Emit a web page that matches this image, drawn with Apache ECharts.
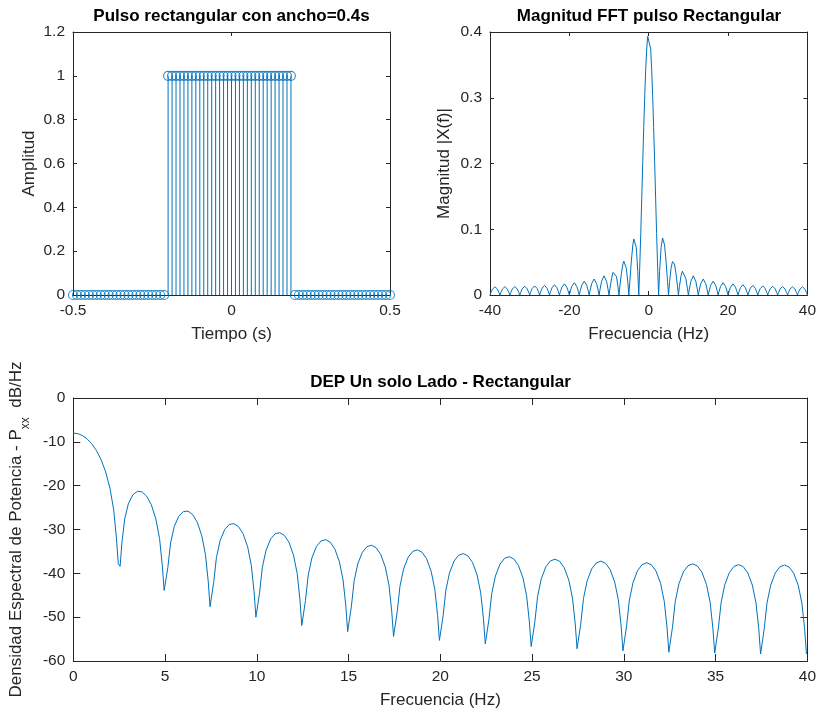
<!DOCTYPE html>
<html>
<head>
<meta charset="utf-8">
<script src="https://cdn.jsdelivr.net/npm/echarts@6/dist/echarts.min.js"></script>
<style>
html,body{margin:0;padding:0;background:#fff;}
#chart{width:819px;height:712px;}
</style>
</head>
<body>
<div id="chart"></div>
<script>
// ---------- Data: rectangular pulse (stem plot) ----------
var pulseTime = [
 -0.5,-0.4875,-0.475,-0.4625,-0.45,-0.4375,-0.425,-0.4125,-0.4,-0.3875,-0.375,-0.3625,
 -0.35,-0.3375,-0.325,-0.3125,-0.3,-0.2875,-0.275,-0.2625,-0.25,-0.2375,-0.225,-0.2125,
 -0.2,-0.1875,-0.175,-0.1625,-0.15,-0.1375,-0.125,-0.1125,-0.1,-0.0875,-0.075,-0.0625,
 -0.05,-0.0375,-0.025,-0.0125,0,0.0125,0.025,0.0375,0.05,0.0625,0.075,0.0875,
 0.1,0.1125,0.125,0.1375,0.15,0.1625,0.175,0.1875,
 0.2,0.2125,0.225,0.2375,0.25,0.2625,0.275,0.2875,0.3,0.3125,0.325,0.3375,
 0.35,0.3625,0.375,0.3875,0.4,0.4125,0.425,0.4375,0.45,0.4625,0.475,0.4875,0.5
];
var pulseAmp = [
 0,0,0,0,0,0,0,0,0,0,0,0,
 0,0,0,0,0,0,0,0,0,0,0,0,
 1,1,1,1,1,1,1,1,1,1,1,1,
 1,1,1,1,1,1,1,1,1,1,1,1,
 1,1,1,1,1,1,1,1,
 0,0,0,0,0,0,0,0,0,0,0,0,
 0,0,0,0,0,0,0,0,0,0,0,0,0
];

// ---------- Data: FFT magnitude ----------
var fftFreq = [
 -40,-39.75,-39.375,-38.75,-38.125,-37.75,
 -37.5,-37.25,-36.875,-36.25,-35.625,-35.25,
 -35,-34.75,-34.375,-33.75,-33.125,-32.75,
 -32.5,-32.25,-31.875,-31.25,-30.625,-30.25,
 -30,-29.75,-29.375,-28.75,-28.125,-27.75,
 -27.5,-27.25,-26.875,-26.25,-25.625,-25.25,
 -25,-24.75,-24.375,-23.75,-23.125,-22.75,
 -22.5,-22.25,-21.875,-21.25,-20.625,-20.25,
 -20,-19.75,-19.375,-18.75,-18.125,-17.75,
 -17.5,-17.25,-16.875,-16.25,-15.625,-15.25,
 -15,-14.75,-14.375,-13.75,-13.125,-12.75,
 -12.5,-12.25,-11.875,-11.25,-10.625,-10.25,
 -10,-9.75,-9.375,-9,-8.75,-8.5,-8.125,-7.75,
 -7.5,-7.25,-6.875,-6.5,-6.25,-6,-5.625,-5.25,
 -5,-4.75,-4.375,-4,-3.75,-3.5,-3.125,-2.75,
 -2.5,-2.25,-2,-1.75,-1.5,-1.25,-1,-0.75,-0.5,-0.25,
 0,
 0.25,0.5,0.75,1,1.25,1.5,1.75,2,2.25,2.5,
 2.75,3.125,3.5,3.75,4,4.375,4.75,5,
 5.25,5.625,6,6.25,6.5,6.875,7.25,7.5,
 7.75,8.125,8.5,8.75,9,9.375,9.75,10,
 10.25,10.625,11.25,11.875,12.25,12.5,
 12.75,13.125,13.75,14.375,14.75,15,
 15.25,15.625,16.25,16.875,17.25,17.5,
 17.75,18.125,18.75,19.375,19.75,20,
 20.25,20.625,21.25,21.875,22.25,22.5,
 22.75,23.125,23.75,24.375,24.75,25,
 25.25,25.625,26.25,26.875,27.25,27.5,
 27.75,28.125,28.75,29.375,29.75,30,
 30.25,30.625,31.25,31.875,32.25,32.5,
 32.75,33.125,33.75,34.375,34.75,35,
 35.25,35.625,36.25,36.875,37.25,37.5,
 37.75,38.125,38.75,39.375,39.75,40
];
var fftMag = [
 0,0.0039,0.0089,0.0125,0.0089,0.0039,
 0,0.0039,0.0089,0.0126,0.0089,0.0039,
 0,0.0040,0.0091,0.0129,0.0091,0.0040,
 0,0.0041,0.0094,0.0133,0.0094,0.0041,
 0,0.0043,0.0098,0.0138,0.0098,0.0043,
 0,0.0045,0.0103,0.0146,0.0103,0.0045,
 0,0.0048,0.0110,0.0156,0.0110,0.0048,
 0,0.0052,0.0119,0.0169,0.0119,0.0052,
 0,0.0058,0.0132,0.0186,0.0132,0.0058,
 0,0.0065,0.0148,0.0210,0.0148,0.0065,
 0,0.0075,0.0172,0.0243,0.0172,0.0075,
 0,0.0090,0.0207,0.0292,0.0207,0.0090,
 0,0.0103,0.0246,0.0344,0.0371,0.0363,0.0282,0.0129,
 0,0.0138,0.0331,0.0471,0.0514,0.0509,0.0403,0.0189,
 0,0.0208,0.0517,0.0760,0.0852,0.0868,0.0722,0.0358,
 0,0.0438,0.0936,0.1473,0.2020,0.2548,0.3028,0.3434,0.3742,0.3935,
 0.396,
 0.3935,0.3742,0.3434,0.3028,0.2548,0.2020,0.1473,0.0936,0.0438,0,
 0.0358,0.0722,0.0868,0.0852,0.0760,0.0517,0.0208,0,
 0.0189,0.0403,0.0509,0.0514,0.0471,0.0331,0.0138,0,
 0.0129,0.0282,0.0363,0.0371,0.0344,0.0246,0.0103,0,
 0.0090,0.0207,0.0292,0.0207,0.0090,0,
 0.0075,0.0172,0.0243,0.0172,0.0075,0,
 0.0065,0.0148,0.0210,0.0148,0.0065,0,
 0.0058,0.0132,0.0186,0.0132,0.0058,0,
 0.0052,0.0119,0.0169,0.0119,0.0052,0,
 0.0048,0.0110,0.0156,0.0110,0.0048,0,
 0.0045,0.0103,0.0146,0.0103,0.0045,0,
 0.0043,0.0098,0.0138,0.0098,0.0043,0,
 0.0041,0.0094,0.0133,0.0094,0.0041,0,
 0.0040,0.0091,0.0129,0.0091,0.0040,0,
 0.0039,0.0089,0.0126,0.0089,0.0039,0,
 0.0039,0.0089,0.0125,0.0089,0.0039,0
];

// ---------- Data: one-sided PSD (dB/Hz) ----------
var psdFreq = [
 0,0.25,0.5,0.75,1,1.25,1.5,1.75,2,2.2,2.35,2.45,
 2.55,2.65,2.8,3,3.25,3.5,3.75,4,4.25,4.5,4.7,4.85,4.95,
 5.05,5.15,5.3,5.5,5.75,6,6.25,6.5,6.75,7,7.2,7.35,7.45,
 7.55,7.65,7.8,8,8.25,8.5,8.75,9,9.25,9.5,9.7,9.85,9.95,
 10.05,10.15,10.3,10.5,10.75,11,11.25,11.5,11.75,12,12.2,12.35,12.45,
 12.55,12.65,12.8,13,13.25,13.5,13.75,14,14.25,14.5,14.7,14.85,14.95,
 15.05,15.15,15.3,15.5,15.75,16,16.25,16.5,16.75,17,17.2,17.35,17.45,
 17.55,17.65,17.8,18,18.25,18.5,18.75,19,19.25,19.5,19.7,19.85,19.95,
 20.05,20.15,20.3,20.5,20.75,21,21.25,21.5,21.75,22,22.2,22.35,22.45,
 22.55,22.65,22.8,23,23.25,23.5,23.75,24,24.25,24.5,24.7,24.85,24.95,
 25.05,25.15,25.3,25.5,25.75,26,26.25,26.5,26.75,27,27.2,27.35,27.45,
 27.55,27.65,27.8,28,28.25,28.5,28.75,29,29.25,29.5,29.7,29.85,29.95,
 30.05,30.15,30.3,30.5,30.75,31,31.25,31.5,31.75,32,32.2,32.35,32.45,
 32.55,32.65,32.8,33,33.25,33.5,33.75,34,34.25,34.5,34.7,34.85,34.95,
 35.05,35.15,35.3,35.5,35.75,36,36.25,36.5,36.75,37,37.2,37.35,37.45,
 37.55,37.65,37.8,38,38.25,38.5,38.75,39,39.25,39.5,39.7,39.85,39.95
];
var psdDb = [
 -8,-8.14,-8.58,-9.33,-10.42,-11.92,-13.94,-16.68,-20.61,-25.5,-31.9,-37.8,
 -38.4,-32.98,-27.59,-24.13,-22.04,-21.28,-21.43,-22.43,-24.35,-27.62,-32.06,-38.2,-43.9,
 -44.3,-38.71,-33.09,-29.34,-26.94,-25.91,-25.81,-26.59,-28.31,-31.40,-35.70,-41.74,-47.6,
 -47.6,-42.08,-36.37,-32.52,-30.00,-28.85,-28.65,-29.33,-30.96,-33.96,-38.19,-44.19,-50.0,
 -50.0,-44.43,-38.67,-34.77,-32.18,-30.97,-30.72,-31.33,-32.90,-35.85,-40.05,-46.02,-51.9,
 -51.9,-46.21,-40.43,-36.49,-33.86,-32.61,-32.32,-32.90,-34.43,-37.35,-41.52,-47.47,-53.3,
 -53.3,-47.62,-41.82,-37.86,-35.20,-33.92,-33.60,-34.15,-35.66,-38.55,-42.70,-48.63,-54.4,
 -54.4,-48.76,-42.95,-38.97,-36.29,-34.99,-34.65,-35.18,-36.66,-39.53,-43.67,-49.59,-55.3,
 -55.3,-49.69,-43.87,-39.88,-37.18,-35.86,-35.50,-36.01,-37.49,-40.34,-44.46,-50.37,-56.1,
 -56.1,-50.46,-44.63,-40.62,-37.91,-36.57,-36.20,-36.70,-38.16,-41.00,-45.11,-51.01,-56.7,
 -56.7,-51.08,-45.25,-41.23,-38.50,-37.16,-36.77,-37.26,-38.71,-41.54,-45.63,-51.53,-57.2,
 -57.2,-51.59,-45.74,-41.72,-38.98,-37.62,-37.23,-37.70,-39.14,-41.96,-46.05,-51.94,-57.7,
 -57.7,-51.99,-46.14,-42.10,-39.35,-37.99,-37.58,-38.05,-39.48,-42.29,-46.37,-52.25,-58.0,
 -58.0,-52.29,-46.43,-42.39,-39.63,-38.26,-37.84,-38.30,-39.72,-42.52,-46.59,-52.47,-58.2,
 -58.2,-52.49,-46.63,-42.59,-39.82,-38.43,-38.01,-38.46,-39.87,-42.66,-46.73,-52.61,-58.4,
 -58.4,-52.62,-46.75,-42.69,-39.92,-38.53,-38.09,-38.54,-39.94,-42.72,-46.78,-52.65,-58.4
];

// ---------- Texts ----------
var titles = ['Pulso rectangular con ancho=0.4s', 'Magnitud FFT pulso Rectangular', 'DEP Un solo Lado - Rectangular'];
var xNames = ['Tiempo (s)', 'Frecuencia (Hz)', 'Frecuencia (Hz)'];
var yNames = ['Amplitud', 'Magnitud |X(f)|'];

// ---------- Build ----------
var FONT = "'Liberation Sans', Arial, Helvetica, sans-serif";
var AX = '#262626';
var BLUE = '#0072BD';
var TICK_FS = 15.5, NAME_FS = 17, TITLE_FS = 17;

function zip(a, b) { return a.map(function (v, i) { return [v, b[i]]; }); }

function xAx(grid, min, max, interval, pos, tickLen, name) {
  var main = pos === 'bottom';
  return {
    gridIndex: grid, type: 'value', position: pos, min: min, max: max, interval: interval,
    axisLine: { show: true, onZero: false, lineStyle: { color: AX, width: 1 } },
    axisTick: { show: true, inside: true, length: tickLen, lineStyle: { color: AX, width: 1 } },
    axisLabel: { show: main, color: AX, fontSize: TICK_FS, fontFamily: FONT, margin: 8 },
    splitLine: { show: false },
    name: main ? name : '', nameLocation: 'middle', nameGap: 31,
    nameTextStyle: { color: AX, fontSize: NAME_FS, fontFamily: FONT }
  };
}
function yAx(grid, min, max, interval, pos, tickLen, name, gap) {
  var main = pos === 'left';
  return {
    gridIndex: grid, type: 'value', position: pos, min: min, max: max, interval: interval,
    axisLine: { show: true, onZero: false, lineStyle: { color: AX, width: 1 } },
    axisTick: { show: true, inside: true, length: tickLen, lineStyle: { color: AX, width: 1 } },
    axisLabel: { show: main, color: AX, fontSize: TICK_FS, fontFamily: FONT, margin: 8 },
    splitLine: { show: false },
    name: main ? name : '', nameLocation: 'middle', nameGap: gap || 30,
    nameTextStyle: { color: AX, fontSize: NAME_FS, fontFamily: FONT }
  };
}

var titleStyle = { color: '#000', fontSize: TITLE_FS, fontWeight: 'bold', fontFamily: FONT };

var option = {
  animation: false,
  backgroundColor: '#fff',
  title: [
    { text: titles[0], left: 231.5, top: 8, textAlign: 'center', padding: 0, textStyle: titleStyle },
    { text: titles[1], left: 649, top: 8, textAlign: 'center', padding: 0, textStyle: titleStyle },
    { text: titles[2], left: 440.5, top: 374, textAlign: 'center', padding: 0, textStyle: titleStyle }
  ],
  grid: [
    { left: 73, top: 32, width: 317, height: 263 },
    { left: 490, top: 32, width: 318, height: 263 },
    { left: 73, top: 398, width: 735, height: 263 }
  ],
  xAxis: [
    xAx(0, -0.5, 0.5, 0.5, 'bottom', 4, xNames[0]),
    xAx(0, -0.5, 0.5, 0.5, 'top', 4, ''),
    xAx(1, -40, 40, 20, 'bottom', 4, xNames[1]),
    xAx(1, -40, 40, 20, 'top', 4, ''),
    xAx(2, 0, 40, 5, 'bottom', 7, xNames[2]),
    xAx(2, 0, 40, 5, 'top', 7, '')
  ],
  yAxis: [
    yAx(0, 0, 1.2, 0.2, 'left', 4, yNames[0], 35),
    yAx(0, 0, 1.2, 0.2, 'right', 4, ''),
    yAx(1, 0, 0.4, 0.1, 'left', 4, yNames[1], 37),
    yAx(1, 0, 0.4, 0.1, 'right', 4, ''),
    Object.assign(yAx(2, -60, 0, 10, 'left', 7, '', 0), {
      name: '{m|Densidad Espectral de Potencia - P}{s|xx}{m|  dB/Hz}',
      nameGap: 40,
      nameTextStyle: {
        color: AX, fontFamily: FONT,
        rich: {
          m: { fontSize: NAME_FS, color: AX, fontFamily: FONT, lineHeight: 24, verticalAlign: 'top' },
          s: { fontSize: 12, color: AX, fontFamily: FONT, lineHeight: 24, verticalAlign: 'bottom' }
        }
      }
    }),
    yAx(2, -60, 0, 10, 'right', 7, '')
  ],
  series: [
    {
      type: 'custom', xAxisIndex: 0, yAxisIndex: 0,
      data: zip(pulseTime, pulseAmp),
      encode: { x: 0, y: 1 },
      clip: false,
      renderItem: function (params, api) {
        var p0 = api.coord([api.value(0), 0]);
        var p1 = api.coord([api.value(0), api.value(1)]);
        return { type: 'line', shape: { x1: p0[0], y1: p0[1], x2: p1[0], y2: p1[1] },
                 style: { stroke: BLUE, lineWidth: 1 } };
      }
    },
    {
      type: 'scatter', xAxisIndex: 0, yAxisIndex: 0,
      data: zip(pulseTime, pulseAmp),
      symbol: 'circle', symbolSize: 9, clip: false,
      itemStyle: { color: 'rgba(0,0,0,0)', borderColor: BLUE, borderWidth: 1.1 },
      emphasis: { disabled: true }
    },
    {
      type: 'line', xAxisIndex: 2, yAxisIndex: 2,
      data: zip(fftFreq, fftMag),
      showSymbol: false, symbol: 'none',
      lineStyle: { color: BLUE, width: 1 }
    },
    {
      type: 'line', xAxisIndex: 4, yAxisIndex: 4,
      data: zip(psdFreq, psdDb),
      showSymbol: false, symbol: 'none',
      lineStyle: { color: BLUE, width: 1 }
    }
  ]
};

var chart = echarts.init(document.getElementById('chart'), null, { renderer: 'canvas' });
chart.setOption(option);
</script>
</body>
</html>
